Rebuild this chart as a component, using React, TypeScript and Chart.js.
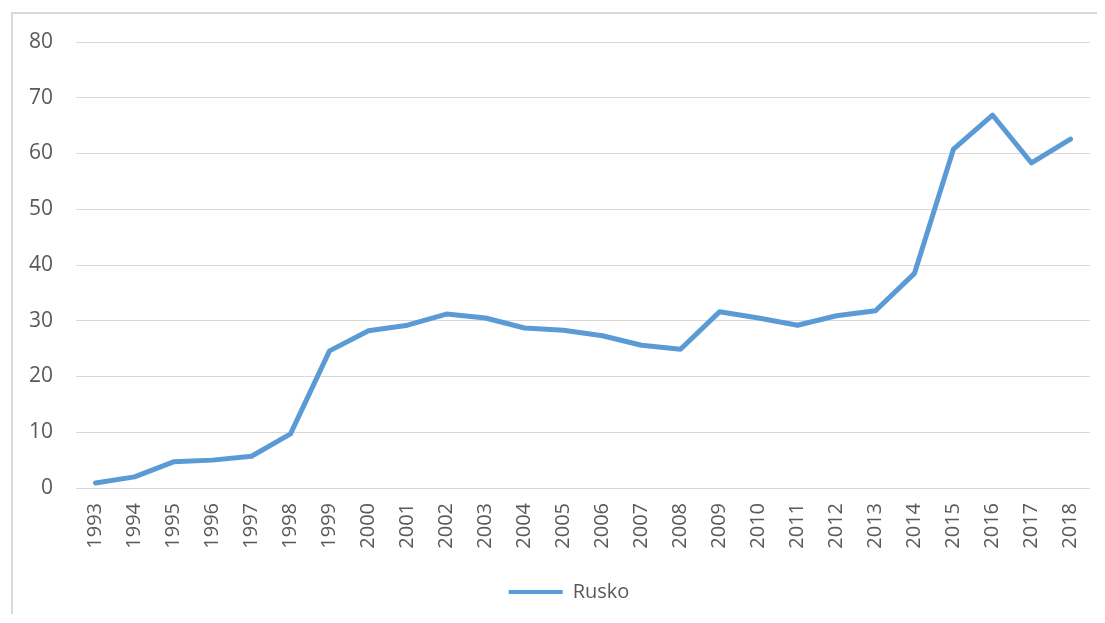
import React, { useEffect, useRef } from "react";
import { Chart, registerables } from "chart.js";

Chart.register(...registerables);

const years: string[] = [
  "1993", "1994", "1995", "1996", "1997", "1998", "1999", "2000", "2001",
  "2002", "2003", "2004", "2005", "2006", "2007", "2008", "2009", "2010",
  "2011", "2012", "2013", "2014", "2015", "2016", "2017", "2018",
];

const rusko: number[] = [
  0.9, 2.0, 4.7, 5.0, 5.7, 9.7, 24.6, 28.2, 29.2, 31.2, 30.5, 28.7, 28.3,
  27.3, 25.6, 24.9, 31.6, 30.5, 29.2, 30.9, 31.8, 38.5, 60.8, 66.9, 58.3, 62.6,
];

const seriesName = "Rusko";
const yMin = 0;
const yMax = 80;
const yStep = 10;

const FONT = "'Open Sans', 'Liberation Sans', sans-serif";
const TEXT = "#595959";
const GRID = "#d9d9d9";
const LINE = "#5B9BD5";

export default function App() {
  const ref = useRef<HTMLCanvasElement | null>(null);

  useEffect(() => {
    if (!ref.current) return;
    const chart = new Chart(ref.current, {
      type: "line",
      data: {
        labels: years,
        datasets: [
          {
            label: seriesName,
            data: rusko,
            borderColor: LINE,
            backgroundColor: LINE,
            borderWidth: 5,
            pointRadius: 0,
            tension: 0,
            borderCapStyle: "round",
            borderJoinStyle: "round",
            yAxisID: "y",
          },
        ],
      },
      options: {
        responsive: false,
        animation: false,
        layout: { padding: { top: 28, left: 0, right: 0, bottom: 2 } },
        plugins: {
          tooltip: { enabled: false },
          legend: {
            display: true,
            position: "bottom",
            labels: {
              boxWidth: 54,
              boxHeight: 4,
              padding: 10,
              color: TEXT,
              font: { family: FONT, size: 20 },
              generateLabels: (c: any) =>
                c.data.datasets.map((ds: any, i: number) => ({
                  text: ds.label,
                  fillStyle: LINE,
                  strokeStyle: LINE,
                  lineWidth: 0,
                  fontColor: TEXT,
                  datasetIndex: i,
                  hidden: false,
                })),
            },
          },
        },
        scales: {
          x: {
            type: "category",
            offset: true,
            grid: { display: false, drawTicks: false },
            border: { display: false },
            ticks: {
              autoSkip: false,
              maxRotation: 90,
              minRotation: 90,
              padding: 15,
              color: TEXT,
              font: { family: FONT, size: 20 },
            },
            afterFit: (s: any) => {
              s.height = 84;
            },
          },
          y: {
            type: "linear",
            position: "left",
            min: yMin,
            max: yMax,
            grid: { color: GRID, lineWidth: 1, drawTicks: false },
            border: { display: false },
            ticks: {
              stepSize: yStep,
              padding: 23,
              color: TEXT,
              font: { family: FONT, size: 21 },
            },
            afterFit: (s: any) => {
              s.width = 63;
              s.paddingTop = 0;
              s.paddingBottom = 0;
            },
          },
          yRight: {
            type: "linear",
            position: "right",
            display: true,
            grid: { display: false, drawTicks: false },
            border: { display: false },
            ticks: { display: false },
            afterFit: (s: any) => {
              s.width = 35;
              s.paddingTop = 0;
              s.paddingBottom = 0;
            },
          },
        },
      },
    });
    return () => chart.destroy();
  }, []);

  return (
    <div style={{ paddingTop: 4, paddingLeft: 3 }}>
      <div
        style={{
          borderLeft: `2px solid ${GRID}`,
          borderTop: `2px solid ${GRID}`,
          width: 1092,
          height: 600,
          overflow: "hidden",
          background: "#fff",
        }}
      >
        <canvas ref={ref} width={1112} height={600} style={{ display: "block" }} />
      </div>
    </div>
  );
}
